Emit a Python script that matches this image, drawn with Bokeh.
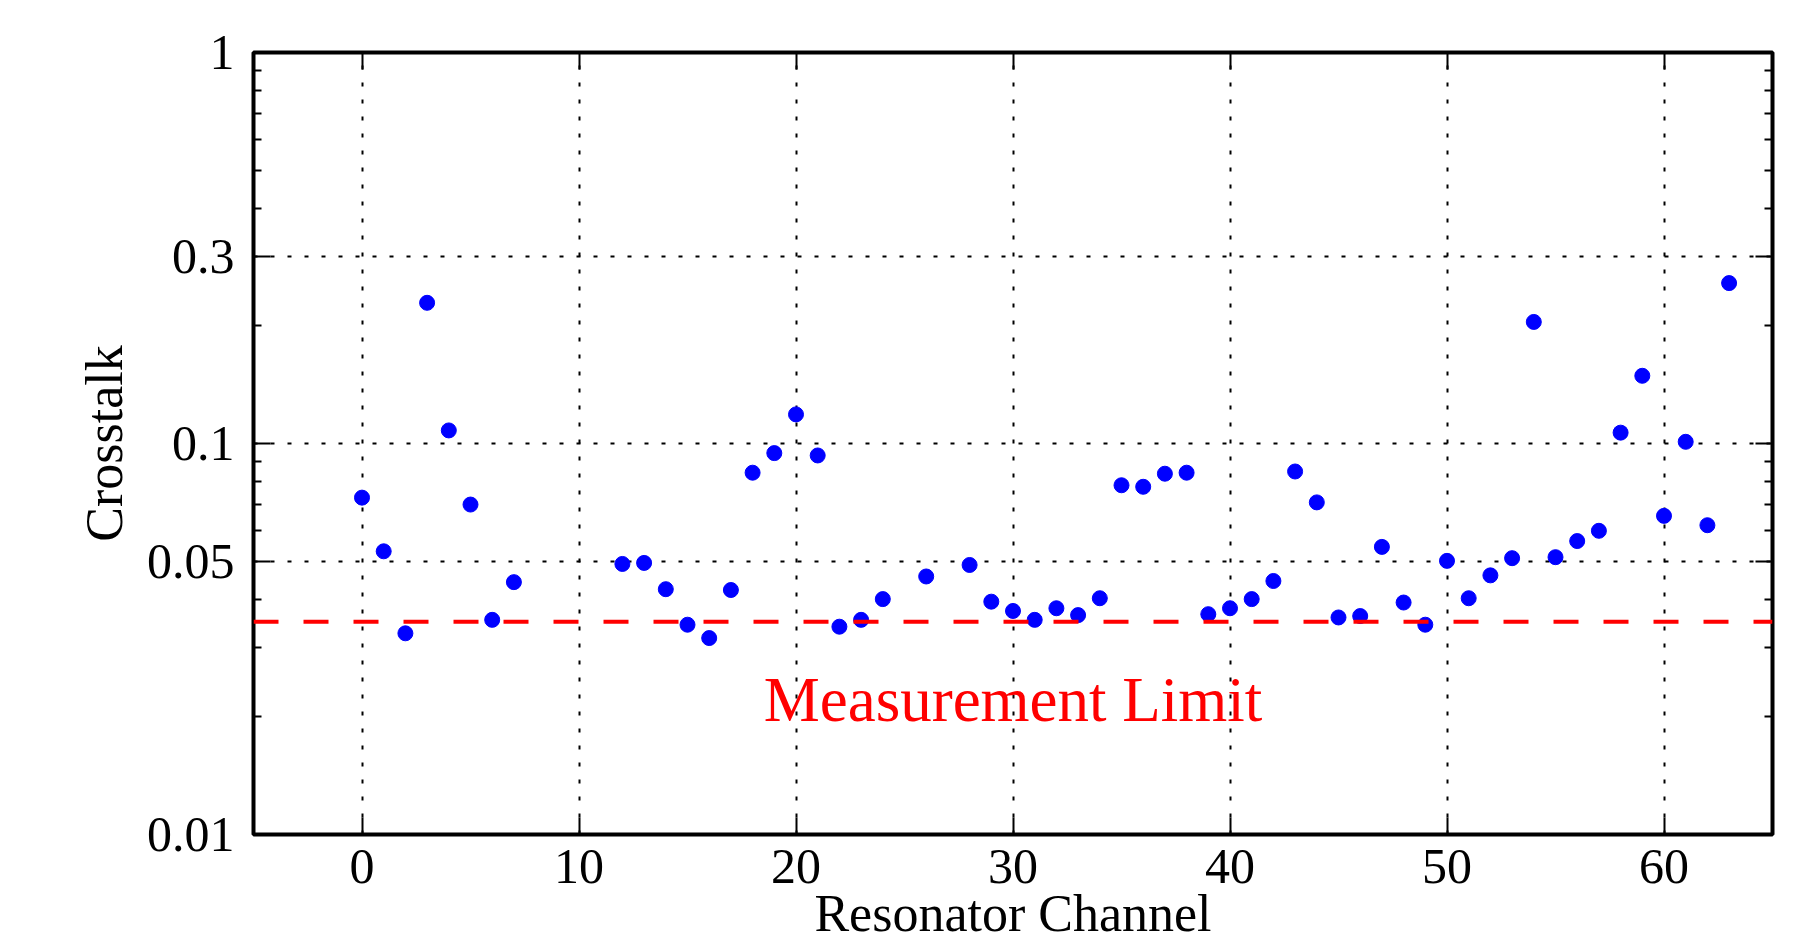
from bokeh.plotting import figure
from bokeh.models import (FixedTicker, LinearAxis, LogAxis, Span, Label,
                          CustomJSTickFormatter, ColumnDataSource, Range1d)
from bokeh.embed import file_html
from bokeh.resources import INLINE

# ---------------- data ----------------
channels = [0, 1, 2, 3, 4, 5, 6, 7,
            12, 13, 14, 15, 16, 17, 18, 19, 20, 21, 22, 23, 24,
            26,
            28, 29, 30, 31, 32, 33, 34, 35, 36, 37, 38, 39, 40, 41, 42, 43,
            44, 45, 46, 47, 48, 49, 50, 51, 52, 53, 54, 55, 56, 57, 58, 59,
            60, 61, 62, 63]
crosstalk = [0.0727, 0.0530, 0.0327, 0.2290, 0.1080, 0.0698, 0.0354, 0.0442,
             0.0492, 0.0495, 0.0424, 0.0344, 0.0318, 0.0422, 0.0842, 0.0945,
             0.1187, 0.0932, 0.0340, 0.0354, 0.0400,
             0.0457,
             0.0489, 0.0394, 0.0373, 0.0354, 0.0379, 0.0364, 0.0402, 0.0782,
             0.0775, 0.0837, 0.0842, 0.0366, 0.0379, 0.0400, 0.0445, 0.0848,
             0.0707, 0.0359, 0.0362, 0.0544, 0.0392, 0.0344, 0.0501, 0.0402,
             0.0460, 0.0509, 0.2046, 0.0512, 0.0563, 0.0598, 0.1066, 0.1490,
             0.0653, 0.1010, 0.0618, 0.2572]
measurement_limit = 0.035
limit_text = "Measurement Limit"
limit_text_x = 30
limit_text_y = 0.02

x_range = (-5, 65)
y_range = (0.01, 1.0)
x_ticks = [0, 10, 20, 30, 40, 50, 60]
y_ticks = [0.01, 0.05, 0.1, 0.3, 1.0]
y_tick_labels = ["0.01", "0.05", "0.1", "0.3", "1"]
y_minor_ticks = [0.02, 0.03, 0.04, 0.06, 0.07, 0.08, 0.09,
                 0.2, 0.4, 0.5, 0.6, 0.7, 0.8, 0.9]
x_label = "Resonator Channel"
y_label = "Crosstalk"

FONT = "Liberation Serif"

# ---------------- figure ----------------
p = figure(width=1777, height=944,
           x_range=Range1d(*x_range), y_range=Range1d(*y_range),
           y_axis_type="log", output_backend="svg", toolbar_location=None,
           min_border_left=253, min_border_right=5,
           min_border_top=52, min_border_bottom=109)
p.background_fill_color = "white"
p.border_fill_color = "white"
p.outline_line_color = "black"
p.outline_line_width = 4

xaxis = p.below[0]
yaxis = p.left[0]
top_axis = LinearAxis()
right_axis = LogAxis()
p.add_layout(top_axis, "above")
p.add_layout(right_axis, "right")

blank = CustomJSTickFormatter(code="return '';")
ylab_fmt = CustomJSTickFormatter(
    args=dict(vals=y_ticks, labels=y_tick_labels),
    code="""
    for (let i = 0; i < vals.length; i++) {
        if (Math.abs(Math.log10(vals[i]) - Math.log10(tick)) < 1e-6) return labels[i];
    }
    return '';
    """)

for ax in (xaxis, top_axis):
    ax.ticker = FixedTicker(ticks=x_ticks, minor_ticks=[])
for ax in (yaxis, right_axis):
    ax.ticker = FixedTicker(ticks=y_ticks, minor_ticks=y_minor_ticks)

for ax in (xaxis, yaxis, top_axis, right_axis):
    ax.axis_line_color = None
    ax.major_tick_in = 17
    ax.major_tick_out = 0
    ax.minor_tick_in = 8
    ax.minor_tick_out = 0
    ax.major_tick_line_width = 2
    ax.minor_tick_line_width = 2
    ax.major_tick_line_color = "black"
    ax.minor_tick_line_color = "black"
    ax.major_label_text_font = FONT
    ax.major_label_text_font_size = "50px"
    ax.major_label_text_color = "black"
    ax.axis_label_text_font = FONT
    ax.axis_label_text_font_style = "normal"
    ax.axis_label_text_font_size = "52px"
    ax.axis_label_text_color = "black"

top_axis.formatter = blank
right_axis.formatter = blank
top_axis.major_label_standoff = 0
right_axis.major_label_standoff = 0
yaxis.formatter = ylab_fmt

xaxis.axis_label = x_label
yaxis.axis_label = y_label
xaxis.major_label_standoff = 15
xaxis.axis_label_standoff = -1
yaxis.major_label_standoff = 19
yaxis.axis_label_standoff = 11

p.xgrid.ticker = FixedTicker(ticks=x_ticks, minor_ticks=[])
p.ygrid.ticker = FixedTicker(ticks=y_ticks, minor_ticks=[])
for g in (p.xgrid, p.ygrid):
    g.grid_line_color = "black"
    g.grid_line_width = 2
    g.grid_line_dash = "4 13"

src = ColumnDataSource(dict(channel=channels, crosstalk=crosstalk))
p.scatter(x="channel", y="crosstalk", source=src, marker="circle", size=15,
          fill_color="#0000ff", line_color="#0000ff")

p.add_layout(Span(location=measurement_limit, dimension="width",
                  line_color="#ff0000", line_width=4, line_dash="25 25"))
p.add_layout(Label(x=limit_text_x, y=limit_text_y, text=limit_text,
                   y_offset=17,
                   text_align="center", text_baseline="alphabetic",
                   text_font=FONT, text_font_size="63px",
                   text_color="#ff0000"))

open("out.html", "w").write(file_html(p, INLINE))
